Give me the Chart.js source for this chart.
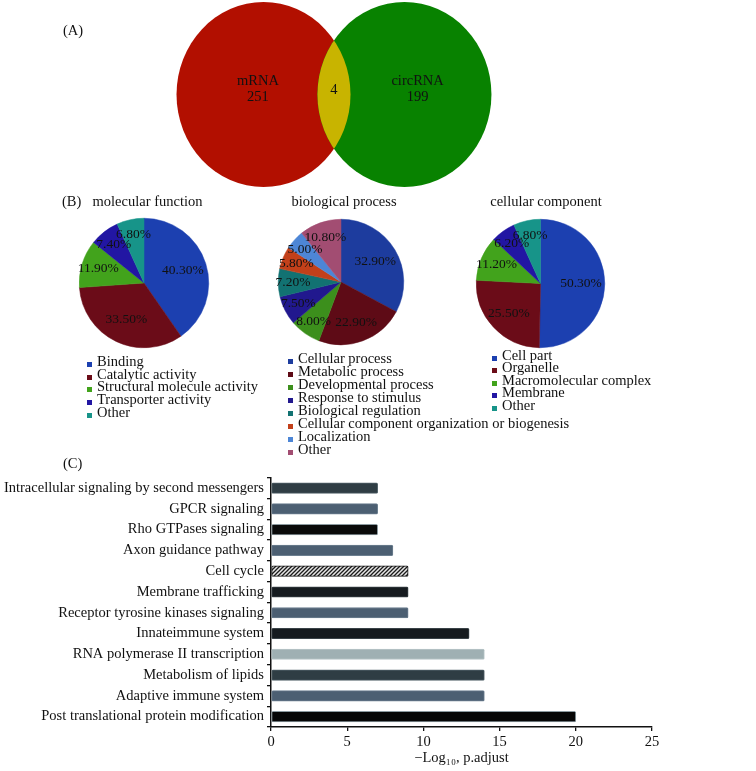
<!DOCTYPE html>
<html><head><meta charset="utf-8">
<script src="https://cdn.jsdelivr.net/npm/chart.js@4.4.1/dist/chart.umd.min.js"></script>
<style>
html,body{margin:0;padding:0;background:#fff;}
#page{position:relative;width:756px;height:771px;overflow:hidden;font-family:"Liberation Serif","Times New Roman",serif;color:#111;}
.t{position:absolute;font-size:14.5px;line-height:16px;white-space:nowrap;}
.c{transform:translateX(-50%);}
canvas{position:absolute;}
.leg{position:absolute;font-size:14.5px;white-space:nowrap;}
.leg div{position:relative;padding-left:10px;}
.leg i{position:absolute;left:0;width:5px;height:5px;}
</style></head>
<body>
<div id="page">
  <canvas id="venn" width="756" height="195" style="left:0;top:0"></canvas>
  <div class="t" style="left:63px;top:22px">(A)</div>
  <div class="t" style="left:62px;top:192.5px">(B)</div>
  <div class="t c" style="left:147.5px;top:192.5px">molecular function</div>
  <div class="t c" style="left:344px;top:192.5px">biological process</div>
  <div class="t c" style="left:546px;top:192.5px">cellular component</div>
  <canvas id="pie1" width="170" height="170" style="left:59px;top:198px"></canvas>
  <canvas id="pie2" width="166" height="166" style="left:258px;top:199px"></canvas>
  <canvas id="pie3" width="169" height="169" style="left:456px;top:199px"></canvas>
  <div class="leg" id="leg1" style="left:87px;top:354.9px"></div>
  <div class="leg" id="leg2" style="left:288px;top:351.9px"></div>
  <div class="leg" id="leg3" style="left:492px;top:348.9px"></div>
  <div class="t" style="left:63px;top:454.5px">(C)</div>
  <canvas id="bars" width="756" height="305" style="left:0;top:466px"></canvas>
</div>
<script>
// ---------- DATA ----------
const vennSets = ['mRNA', 'circRNA'];
const vennOnly = [251, 199];
const vennShared = 4;

const mfLabels = ['Binding', 'Catalytic activity', 'Structural molecule activity', 'Transporter activity', 'Other'];
const mfValues = [40.3, 33.5, 11.9, 7.4, 6.8];

const bpLabels = ['Cellular process', 'Metabolic process', 'Developmental process', 'Response to stimulus',
  'Biological regulation', 'Cellular component organization or biogenesis', 'Localization', 'Other'];
const bpValues = [32.9, 22.9, 8.0, 7.5, 7.2, 5.8, 5.0, 10.8];

const ccLabels = ['Cell part', 'Organelle', 'Macromolecular complex', 'Membrane', 'Other'];
const ccValues = [50.3, 25.5, 11.2, 6.2, 6.8];

const pathways = ['Intracellular signaling by second messengers', 'GPCR signaling', 'Rho GTPases signaling',
  'Axon guidance pathway', 'Cell cycle', 'Membrane trafficking', 'Receptor tyrosine kinases signaling',
  'Innateimmune system', 'RNA polymerase II transcription', 'Metabolism of lipids', 'Adaptive immune system',
  'Post translational protein modification'];
const pathwayScores = [7, 7, 7, 8, 9, 9, 9, 13, 14, 14, 14, 20];
const xTicks = [0, 5, 10, 15, 20, 25];

// ---------- STYLES ----------
const FONT = '"Liberation Serif", "Times New Roman", serif';
const mfColors = ['#1c40b0', '#6b0c18', '#42a31c', '#2216a3', '#179489'];
const bpColors = ['#1d3c9e', '#5e0b16', '#3c8f1c', '#21188e', '#127272', '#c2401a', '#4d86d6', '#a24d72'];
const ccColors = mfColors;

// ---------- VENN ----------
const vennPlugin = {
  id: 'venn',
  afterDraw(chart) {
    const {ctx, scales: {x, y}} = chart;
    const rx = x.getPixelForValue(1) - x.getPixelForValue(0);
    const ry = y.getPixelForValue(0) - y.getPixelForValue(1);
    const sep = 0.81;
    const cy = y.getPixelForValue(0);
    const cl = x.getPixelForValue(-sep), cr = x.getPixelForValue(sep);
    const ell = (cx) => { ctx.beginPath(); ctx.ellipse(cx, cy, rx, ry, 0, 0, Math.PI * 2); };
    ctx.save();
    ctx.fillStyle = '#b20f00'; ell(cl); ctx.fill();
    ctx.fillStyle = '#088200'; ell(cr); ctx.fill();
    ctx.save(); ell(cl); ctx.clip(); ctx.fillStyle = '#c8b400'; ell(cr); ctx.fill(); ctx.restore();
    ctx.fillStyle = '#111';
    ctx.font = '14.5px ' + FONT;
    ctx.textAlign = 'center'; ctx.textBaseline = 'middle';
    const ly = y.getPixelForValue(0.06);
    const lx = [x.getPixelForValue(-0.874), x.getPixelForValue(0.961)];
    vennSets.forEach((s, i) => {
      ctx.fillText(s, lx[i], ly - 8);
      ctx.fillText(String(vennOnly[i]), lx[i], ly + 8);
    });
    ctx.fillText(String(vennShared), x.getPixelForValue(0), y.getPixelForValue(0.049));
    ctx.restore();
  }
};
new Chart(document.getElementById('venn'), {
  type: 'scatter',
  data: {datasets: []},
  options: {
    responsive: false, animation: false,
    layout: {padding: 0},
    plugins: {legend: {display: false}, tooltip: {enabled: false}},
    scales: {
      x: {type: 'linear', display: false, min: -3.839, max: 4.851},
      y: {type: 'linear', display: false, min: -1.086, max: 1.022}
    }
  },
  plugins: [vennPlugin]
});

// ---------- PIES ----------
const pieLabelPlugin = {
  id: 'pieLabels',
  afterDatasetsDraw(chart) {
    const ctx = chart.ctx;
    const meta = chart.getDatasetMeta(0);
    const vals = chart.data.datasets[0].data;
    const total = vals.reduce((a, b) => a + b, 0);
    ctx.save();
    ctx.font = '13.5px ' + FONT;
    ctx.fillStyle = '#111';
    ctx.textAlign = 'center'; ctx.textBaseline = 'middle';
    meta.data.forEach((arc, i) => {
      const share = vals[i] / total;
      const f = Math.max(0.63, 0.8 - 0.5 * share);
      const p = arc.getProps(['x', 'y', 'startAngle', 'endAngle', 'outerRadius'], true);
      const mid = (p.startAngle + p.endAngle) / 2;
      const r = p.outerRadius * f;
      ctx.fillText(vals[i].toFixed(2) + '%', p.x + Math.cos(mid) * r, p.y + Math.sin(mid) * r);
    });
    ctx.restore();
  }
};
function makePie(id, labels, values, colors, legId, rowH) {
  const ch = new Chart(document.getElementById(id), {
    type: 'pie',
    data: {labels, datasets: [{data: values, backgroundColor: colors, borderColor: colors, borderWidth: 0.5,
      hoverOffset: 0, offset: 0, hoverBorderWidth: 0.5}]},
    options: {
      responsive: false, animation: false,
      layout: {padding: 20},
      events: [],
      plugins: {legend: {display: false}, tooltip: {enabled: false}}
    },
    plugins: [pieLabelPlugin]
  });
  const leg = document.getElementById(legId);
  ch.data.labels.forEach((l, i) => {
    const row = document.createElement('div');
    row.style.height = rowH + 'px';
    row.style.lineHeight = rowH + 'px';
    const sq = document.createElement('i');
    sq.style.background = ch.data.datasets[0].backgroundColor[i];
    sq.style.top = (rowH * 0.55) + 'px';
    row.appendChild(sq);
    row.appendChild(document.createTextNode(l));
    leg.appendChild(row);
  });
}
makePie('pie1', mfLabels, mfValues, mfColors, 'leg1', 12.75);
makePie('pie2', bpLabels, bpValues, bpColors, 'leg2', 13);
makePie('pie3', ccLabels, ccValues, ccColors, 'leg3', 12.5);

// ---------- BARS ----------
const barCanvas = document.getElementById('bars');
const bctx = barCanvas.getContext('2d');
function hatchPattern() {
  const c = document.createElement('canvas');
  c.width = 4; c.height = 4;
  const g = c.getContext('2d');
  g.fillStyle = '#e6e6e6'; g.fillRect(0, 0, 4, 4);
  g.strokeStyle = '#1a1a1a'; g.lineWidth = 1.3;
  g.beginPath();
  g.moveTo(0, 4); g.lineTo(4, 0);
  g.moveTo(-1, 1); g.lineTo(1, -1);
  g.moveTo(3, 5); g.lineTo(5, 3);
  g.stroke();
  return bctx.createPattern(c, 'repeat');
}
const barColors = ['#2f3d44', '#4c5f72', '#0a0a0a', '#4c5f72', hatchPattern(), '#161b1f', '#4c5f72',
  '#161b1f', '#9fb0b3', '#2f3d44', '#4c5f72', '#060606'];
const barBorders = ['#55656c', '#6c7f90', '#8c9aa0', '#6c7f90', '#111111', '#3a4348', '#6c7f90',
  '#3a4348', '#b8c6c8', '#55656c', '#6c7f90', '#8c9aa0'];
const tickFont = {family: FONT, size: 14.5};
new Chart(barCanvas, {
  type: 'bar',
  data: {labels: pathways, datasets: [{data: pathwayScores, backgroundColor: barColors, borderColor: barBorders,
    borderWidth: 1, borderSkipped: false, borderRadius: 1.5, barThickness: 10.5}]},
  options: {
    indexAxis: 'y', responsive: false, animation: false, events: [],
    layout: {padding: {top: 10, right: 104, left: 0, bottom: 0}},
    plugins: {legend: {display: false}, tooltip: {enabled: false}},
    scales: {
      x: {
        min: xTicks[0], max: xTicks[xTicks.length - 1],
        afterBuildTicks(s) { s.ticks = xTicks.map(v => ({value: v})); },
        ticks: {font: tickFont, color: '#111', padding: 2, maxRotation: 0},
        grid: {drawOnChartArea: false, drawTicks: true, tickLength: 4, color: '#111', lineWidth: 1.3},
        border: {color: '#111', width: 1.5},
        title: {display: true, text: '\u2212Log\u2081\u2080, p.adjust', font: tickFont, color: '#111', padding: {top: 0, bottom: 4}},
        afterFit(s) { s.height = 44; }
      },
      y: {
        ticks: {font: tickFont, color: '#111', padding: 3, autoSkip: false},
        grid: {drawOnChartArea: false, drawTicks: true, tickLength: 4, color: '#111', lineWidth: 1.3},
        border: {color: '#111', width: 1.5},
        afterFit(s) { s.width = 271; }
      }
    }
  }
});
</script>
</body></html>
